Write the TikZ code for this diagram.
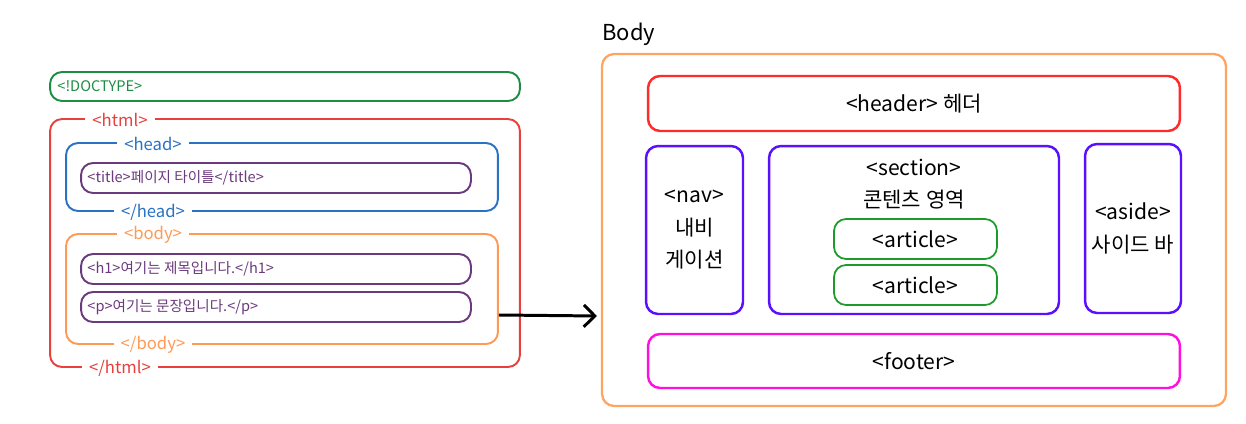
\documentclass[tikz,border=0pt]{standalone}
\usepackage{fontspec}
\setmainfont{Noto Sans CJK KR}
\usetikzlibrary{arrows.meta}

\definecolor{doctypegreen}{HTML}{1E8C45}
\definecolor{htmlred}{HTML}{E8403C}
\definecolor{headblue}{HTML}{2A72C4}
\definecolor{tagpurple}{HTML}{6B3A7D}
\definecolor{bodyorange}{HTML}{FF9A55}
\definecolor{outerorange}{HTML}{FFA563}
\definecolor{headerred}{HTML}{FF2A2A}
\definecolor{navviolet}{HTML}{5A10FF}
\definecolor{articlegreen}{HTML}{1E9A2A}
\definecolor{footerpink}{HTML}{FF10E0}

\tikzset{
  srcbox/.style={draw,rounded corners=0.24cm,line width=1.1pt,inner sep=0pt},
  layoutbox/.style={draw,rounded corners=0.24cm,line width=1.4pt,inner sep=0pt,
    align=center,font=\fontsize{12}{18.5}\selectfont},
  srctext/.style={anchor=west,inner sep=0pt,font=\fontsize{8.3}{10}\selectfont},
  tag/.style={fill=white,inner xsep=4pt,inner ysep=0pt,font=\fontsize{9.5}{11}\selectfont}
}

\begin{document}
\begin{tikzpicture}[x=0.02cm,y=-0.02cm]
\useasboundingbox (0,0) rectangle (1246,423);

% source side
\node[srcbox,draw=doctypegreen,minimum width=9.4cm,minimum height=0.58cm] (doctype) at (285,86.5) {};
\node[srctext,text=doctypegreen] (doctypetxt) at ([xshift=0.16cm]doctype.west) {<!DOCTYPE>};

\node[srcbox,draw=htmlred,minimum width=9.4cm,minimum height=4.96cm] (html) at (285,243) {};
\node[tag,text=htmlred] (htmlopen) at (120,120) {<html>};
\node[tag,text=htmlred] (htmlclose) at (120,368) {</html>};

\node[srcbox,draw=headblue,minimum width=8.64cm,minimum height=1.36cm] (head) at (282,177) {};
\node[tag,text=headblue] (headopen) at (153,144) {<head>};
\node[tag,text=headblue] (headclose) at (153,212) {</head>};
\node[srcbox,draw=tagpurple,minimum width=7.8cm,minimum height=0.6cm] (title) at (276,178) {};
\node[srctext,text=tagpurple] (titletxt) at ([xshift=0.14cm]title.west) {<title>페이지 타이틀</title>};

\node[srcbox,draw=bodyorange,minimum width=8.64cm,minimum height=2.2cm] (body) at (282,289) {};
\node[tag,text=bodyorange] (bodyopen) at (153,235) {<body>};
\node[tag,text=bodyorange] (bodyclose) at (153,345) {</body>};
\node[srcbox,draw=tagpurple,minimum width=7.8cm,minimum height=0.6cm] (hone) at (276,269) {};
\node[srctext,text=tagpurple] (honetxt) at ([xshift=0.14cm]hone.west) {<h1>여기는 제목입니다.</h1>};
\node[srcbox,draw=tagpurple,minimum width=7.8cm,minimum height=0.6cm] (para) at (276,307) {};
\node[srctext,text=tagpurple] (paratxt) at ([xshift=0.14cm]para.west) {<p>여기는 문장입니다.</p>};

% layout side
\node[anchor=south west,inner sep=0pt,font=\fontsize{12.5}{14}\selectfont] (bodytitle) at (602,46) {Body};
\node[srcbox,draw=outerorange,line width=1.3pt,minimum width=12.48cm,minimum height=7.04cm] (outer) at (914,230) {};

\node[layoutbox,draw=headerred,minimum width=10.64cm,minimum height=1.1cm] (header) at (914,103.5) {<header> 헤더};
\node[layoutbox,draw=navviolet,minimum width=1.94cm,minimum height=3.36cm] (nav) at (694.5,230) {<nav>\\내비\\게이션};
\node[layoutbox,draw=navviolet,minimum width=5.8cm,minimum height=3.36cm] (section) at (914,230) {};
\node[font=\fontsize{12}{18.5}\selectfont,align=center,inner sep=0pt] (sectiontxt) at (914,184) {<section>\\콘텐츠 영역};
\node[layoutbox,draw=articlegreen,line width=1pt,minimum width=3.26cm,minimum height=0.8cm] (articleone) at (915.5,239) {<article>};
\node[layoutbox,draw=articlegreen,line width=1pt,minimum width=3.26cm,minimum height=0.8cm] (articletwo) at (915.5,285) {<article>};
\node[layoutbox,draw=navviolet,minimum width=1.92cm,minimum height=3.38cm] (aside) at (1133,228.5) {<aside>\\사이드 바};
\node[layoutbox,draw=footerpink,minimum width=10.64cm,minimum height=1.08cm] (footer) at (914,361) {<footer>};

\draw[line width=1.7pt,-{Straight Barb[length=2.2mm,width=4.4mm]}]
  ([yshift=-0.52cm]body.east) -- ([xshift=-0.08cm,yshift=-1.72cm]outer.west);
\end{tikzpicture}
\end{document}
